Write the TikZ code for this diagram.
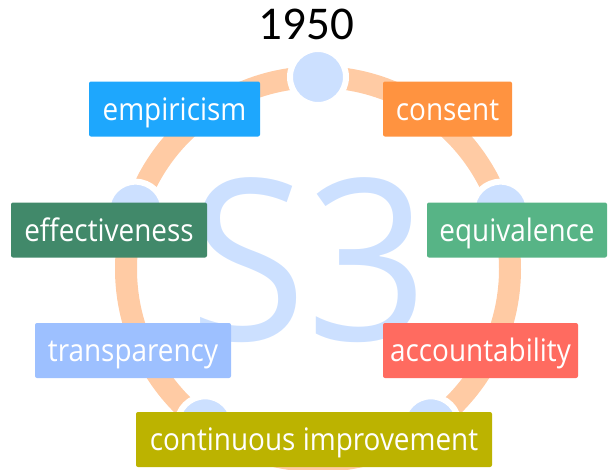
\documentclass[tikz,border=0pt]{standalone}
\usepackage{fontspec}
\setmainfont{Open Sans}
\newfontfamily\titlefont{Carlito}
\newfontfamily\lblfont[FakeStretch=0.9]{Open Sans}
\newfontfamily\bigfont[FakeStretch=0.95]{Open Sans}
\definecolor{ringc}{HTML}{FFCBA4}
\definecolor{dotc}{HTML}{CCE0FF}
\definecolor{cEmp}{HTML}{1EA7FD}
\definecolor{cCon}{HTML}{FF9340}
\definecolor{cEff}{HTML}{41896A}
\definecolor{cEqu}{HTML}{57B486}
\definecolor{cTra}{HTML}{9DC0FF}
\definecolor{cAcc}{HTML}{FF6B60}
\definecolor{cCont}{HTML}{BCB300}
\begin{document}
\begin{tikzpicture}[x=1pt,y=-1pt,
  dot/.style={circle,fill=dotc,draw=white,line width=6pt,minimum size=56pt,inner sep=0pt},
  lbl/.style={rounded corners=2pt,text=white,minimum height=55pt,inner sep=0pt,
    text height=22pt,text depth=0pt,
    font=\lblfont\fontsize{31}{31}\selectfont}]
\useasboundingbox (0,0) rectangle (608,469);
\coordinate (o) at (318,269);
\draw[ringc,line width=22pt] (o) circle[radius=192pt];
\path (o) ++(-90:192) node[dot] (d1) {};
\path (o) ++(-18:192) node[dot] (d2) {};
\path (o) ++(54:192) node[dot] (d3) {};
\path (o) ++(126:192) node[dot] (d4) {};
\path (o) ++(198:192) node[dot] (d5) {};
\node[text=dotc,inner sep=0pt,font=\bigfont\fontsize{225}{225}\selectfont] (s3) at (309,260) {S3};
\node[font=\titlefont\fontsize{47}{47}\selectfont,inner sep=0pt] (title) at (306.5,24.5) {1950};
\node[lbl,fill=cEmp,minimum width=171pt] (emp) at (174.5,109) {empiricism};
\node[lbl,fill=cCon,minimum width=129pt] (con) at (447.5,109) {consent};
\node[lbl,fill=cEff,minimum width=196pt] (eff) at (109,230) {effectiveness};
\node[lbl,fill=cEqu,minimum width=180pt] (equ) at (517,230) {equivalence};
\node[lbl,fill=cTra,minimum width=196pt] (tra) at (133,350.5) {transparency};
\node[lbl,fill=cAcc,minimum width=195pt] (acc) at (480.5,350.5) {accountability};
\node[lbl,fill=cCont,minimum width=356pt] (cont) at (314,439.5) {continuous improvement};
\end{tikzpicture}
\end{document}
